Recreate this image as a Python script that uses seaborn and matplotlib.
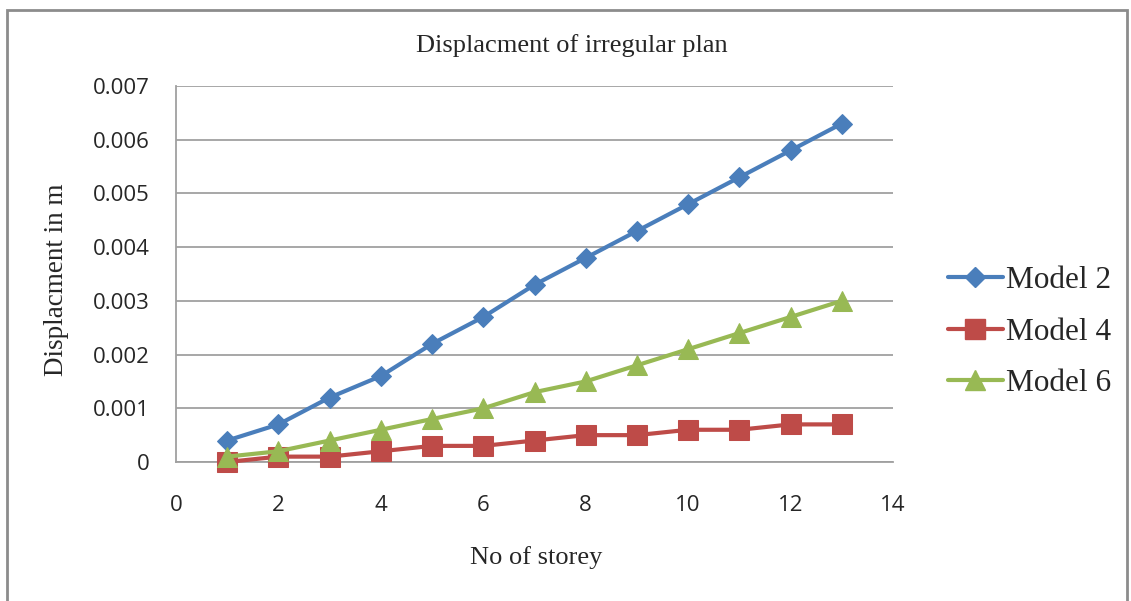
import numpy as np
import pandas as pd
import matplotlib
matplotlib.use("Agg")
import matplotlib.pyplot as plt
import seaborn as sns
from matplotlib.patches import Rectangle
from matplotlib.lines import Line2D

storey = list(range(1, 14))
model_2 = [0.0004, 0.0007, 0.0012, 0.0016, 0.0022, 0.0027, 0.0033,
           0.0038, 0.0043, 0.0048, 0.0053, 0.0058, 0.0063]
model_4 = [0.0000, 0.0001, 0.0001, 0.0002, 0.0003, 0.0003, 0.0004,
           0.0005, 0.0005, 0.0006, 0.0006, 0.0007, 0.0007]
model_6 = [0.0001, 0.0002, 0.0004, 0.0006, 0.0008, 0.0010, 0.0013,
           0.0015, 0.0018, 0.0021, 0.0024, 0.0027, 0.0030]
series_names = ["Model 2", "Model 4", "Model 6"]
x_ticks = [0, 2, 4, 6, 8, 10, 12, 14]
y_ticks = [0, 0.001, 0.002, 0.003, 0.004, 0.005, 0.006, 0.007]

df = pd.concat([
    pd.DataFrame({"storey": storey, "disp": vals, "model": name})
    for name, vals in zip(series_names, [model_2, model_4, model_6])
])

sns.set_theme(style="white")
plt.rcParams["font.family"] = ["Liberation Serif", "DejaVu Serif"]

colors = {"Model 2": "#4A7EBB", "Model 4": "#BE4B48", "Model 6": "#98B954"}
markers = {"Model 2": "D", "Model 4": "s", "Model 6": "^"}
msizes = {"Model 2": 10, "Model 4": 14, "Model 6": 14}

W, H = 1131, 601
fig = plt.figure(figsize=(W / 100, H / 100), dpi=100)
x0, x1, ytop, ybot = 176, 893, 86, 462
ax = fig.add_axes([x0 / W, 1 - ybot / H, (x1 - x0) / W, (ybot - ytop) / H])

for name in series_names:
    sub = df[df["model"] == name]
    sns.lineplot(data=sub, x="storey", y="disp", ax=ax, color=colors[name],
                 marker=markers[name], markersize=msizes[name],
                 markeredgecolor=colors[name], linewidth=3.0,
                 label=name, legend=False, clip_on=False, zorder=3)

ax.set_xlim(0, 14)
ax.set_ylim(0, 0.007)
ax.set_xticks(x_ticks)
ax.set_yticks(y_ticks)
ax.set_xticklabels([str(t) for t in x_ticks])
ax.set_yticklabels(["0"] + [f"{t:.3f}" for t in y_ticks[1:]])
for lab in ax.get_xticklabels() + ax.get_yticklabels():
    lab.set_fontfamily("Open Sans")
    lab.set_fontsize(16)
ax.tick_params(axis="x", pad=24, length=0)
ax.tick_params(axis="y", pad=19, length=0)

ax.grid(axis="y", color="#A0A0A0", linewidth=1.3)
ax.grid(axis="x", visible=False)
for s in ["top", "right"]:
    ax.spines[s].set_visible(False)
for s in ["left", "bottom"]:
    ax.spines[s].set_color("#A0A0A0")
    ax.spines[s].set_linewidth(1.3)

ax.set_xlabel("No of storey", fontsize=19, labelpad=0)
ax.xaxis.set_label_coords((536 - x0) / (x1 - x0), -(546 - ybot) / (ybot - ytop))
ax.set_ylabel("Displacment in m", fontsize=19.5)
ax.yaxis.set_label_coords(-(x0 - 69) / (x1 - x0), (ybot - 280) / (ybot - ytop))

fig.text(572 / W, 1 - 46 / H, "Displacment of irregular plan",
         ha="center", va="center", fontsize=19)

handles = [Line2D([0], [0], color=colors[n], marker=markers[n],
                  markersize=msizes[n], linewidth=3.0) for n in series_names]
fig.legend(handles, series_names, loc="center left",
           bbox_to_anchor=(935 / W, 1 - 332 / H), frameon=False,
           fontsize=22.5, handlelength=1.76, handletextpad=0.12,
           labelspacing=0.73, borderaxespad=0)

fig.patches.append(Rectangle((7 / W, -0.05), (1127 - 7) / W, 1.05 - 10 / H,
                             transform=fig.transFigure, fill=False,
                             edgecolor="#8C8C8C", linewidth=2, figure=fig))

fig.savefig("out.png", dpi=100)
